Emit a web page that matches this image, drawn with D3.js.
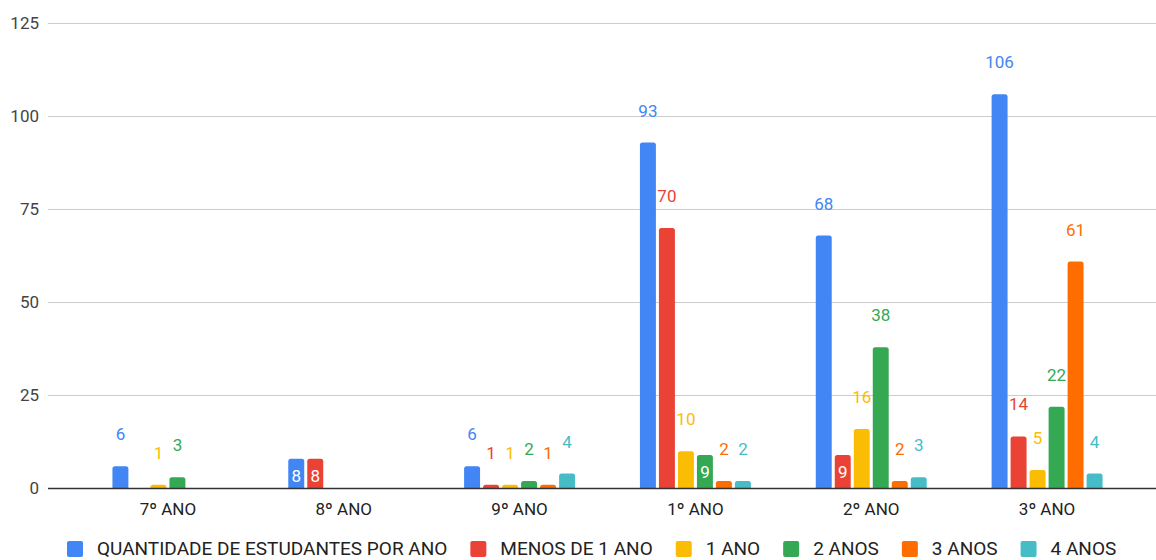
<!DOCTYPE html>
<html>
<head>
<meta charset="utf-8">
<script src="https://cdn.jsdelivr.net/npm/d3@7"></script>
<style>
  html, body { margin: 0; padding: 0; background: #fff; }
  svg { display: block; font-family: Roboto, "Noto Sans", sans-serif; }
</style>
</head>
<body>
<svg id="chart" width="1156" height="560"></svg>
<script>
// Students per school year, broken down by time at the school
const categories = ["7º ANO", "8º ANO", "9º ANO", "1º ANO", "2º ANO", "3º ANO"];
const seriesNames = ["QUANTIDADE DE ESTUDANTES POR ANO", "MENOS DE 1 ANO", "1 ANO", "2 ANOS", "3 ANOS", "4 ANOS"];
const quantidade = [6, 8, 6, 93, 68, 106];
const menosDe1 = [0, 8, 1, 70, 9, 14];
const umAno = [1, 0, 1, 10, 16, 5];
const doisAnos = [3, 0, 2, 9, 38, 22];
const tresAnos = [0, 0, 1, 2, 2, 61];
const quatroAnos = [0, 0, 4, 2, 3, 4];
const yTicks = [0, 25, 50, 75, 100, 125];
const colors = ["#4285F4", "#EA4335", "#FBBC04", "#34A853", "#FF6D01", "#46BDC6"];

const seriesValues = [quantidade, menosDe1, umAno, doisAnos, tresAnos, quatroAnos];

const svg = d3.select("#chart");
const plotLeft = 48, plotRight = 1156;

const x = d3.scaleBand().domain(categories).range([80, 1135]);
const groupWidth = 114;
const xs = d3.scaleBand().domain(d3.range(seriesNames.length))
  .range([0, groupWidth]).paddingInner(0.16).paddingOuter(0.08);
const y = d3.scaleLinear().domain([0, 125]).range([488.5, 23.5]);

// gridlines
svg.append("g").selectAll("line").data(yTicks.filter(t => t > 0)).join("line")
  .attr("x1", plotLeft).attr("x2", plotRight)
  .attr("y1", d => y(d)).attr("y2", d => y(d))
  .attr("stroke", "#cccccc").attr("stroke-width", 1);

// y axis labels
const yAxis = d3.axisLeft(y).tickValues(yTicks).tickSize(0).tickPadding(0);
const gy = svg.append("g").attr("transform", `translate(39,0)`).call(yAxis);
gy.select(".domain").remove();
gy.selectAll("text").attr("font-size", 17).attr("fill", "#444").attr("font-family", "Roboto");

// flatten bars
const bars = [];
categories.forEach((c, ci) => {
  seriesValues.forEach((vals, si) => {
    const v = vals[ci];
    if (v > 0) bars.push({ c, ci, si, v });
  });
});
const barX = d => x(d.c) + (x.bandwidth() - groupWidth) / 2 + xs(d.si);
const bw = xs.bandwidth();

// bars with rounded tops
const r = 2.5;
function barPath(d) {
  const x0 = barX(d), x1 = x0 + bw, y0 = y(0), y1 = y(d.v);
  const rr = Math.min(r, (y0 - y1));
  return `M${x0},${y0}V${y1 + rr}Q${x0},${y1} ${x0 + rr},${y1}H${x1 - rr}Q${x1},${y1} ${x1},${y1 + rr}V${y0}Z`;
}
svg.append("g").selectAll("path").data(bars).join("path")
  .attr("d", barPath).attr("fill", d => colors[d.si]);

// axis baseline
svg.append("line").attr("x1", plotLeft).attr("x2", plotRight)
  .attr("y1", y(0)).attr("y2", y(0)).attr("stroke", "#333").attr("stroke-width", 1.5);

// value labels: above the bar unless crowded by a neighbour of equal or larger value
const labH = 17, pad = 5;
const labels = bars.map(d => {
  const w = String(d.v).length * 9.5;
  const cx = barX(d) + bw / 2;
  const cy = y(d.v) - 32;
  return { d, cx, cy, w };
});
labels.forEach(a => {
  const crowded = labels.some(b => b !== a && b.d.v >= a.d.v &&
    Math.abs(a.cx - b.cx) < (a.w + b.w) / 2 + pad * 2 &&
    Math.abs(a.cy - b.cy) < labH + pad * 2);
  const fits = y(0) - y(a.d.v) >= 26;
  a.inside = crowded && fits;
});
svg.append("g").selectAll("text").data(labels).join("text")
  .attr("x", l => l.cx)
  .attr("y", l => l.inside ? y(l.d.v) + 17 : l.cy)
  .attr("text-anchor", "middle").attr("dominant-baseline", "central")
  .attr("font-size", 17)
  .attr("fill", l => l.inside ? "#ffffff" : colors[l.d.si])
  .text(l => l.d.v);

// category labels
svg.append("g").selectAll("text").data(categories).join("text")
  .attr("x", d => x(d) + x.bandwidth() / 2).attr("y", 509)
  .attr("text-anchor", "middle").attr("dominant-baseline", "central")
  .attr("font-size", 17).attr("fill", "#222").text(d => d);

// legend
const legend = svg.append("g");
let lx = 67;
seriesNames.forEach((name, i) => {
  const g = legend.append("g").attr("transform", `translate(${lx},0)`);
  g.append("rect").attr("x", 0).attr("y", 541).attr("width", 16).attr("height", 16)
    .attr("rx", 2).attr("fill", colors[i]);
  const t = g.append("text").attr("x", 30).attr("y", 548)
    .attr("dominant-baseline", "central").attr("font-size", 19).attr("fill", "#222").text(name);
  lx += 30 + t.node().getComputedTextLength() + 23;
});
</script>
</body>
</html>
